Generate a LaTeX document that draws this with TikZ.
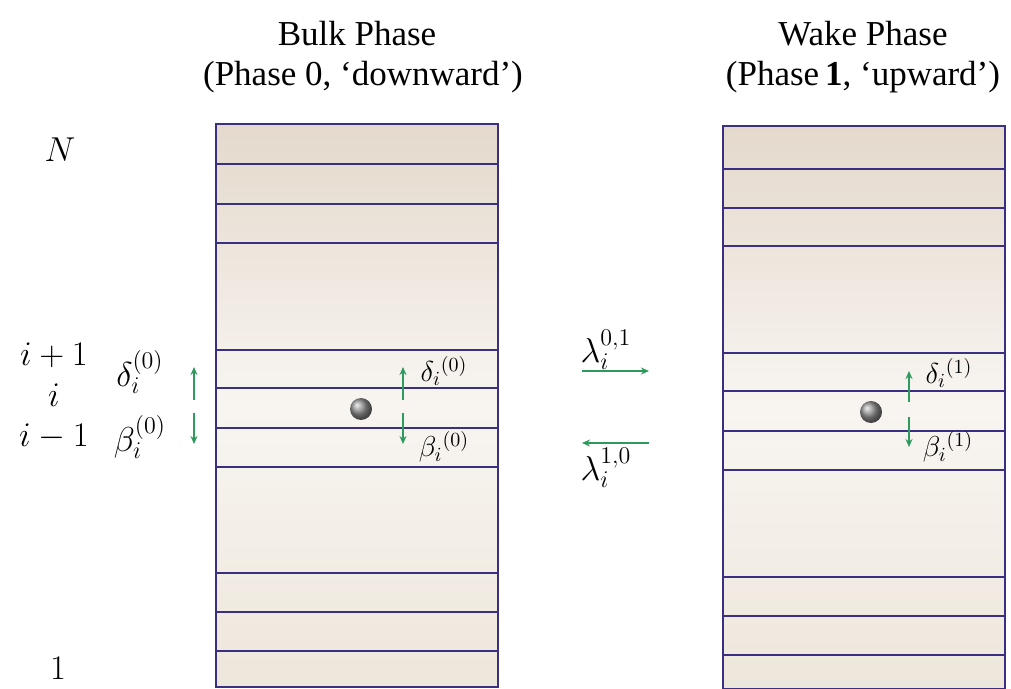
\documentclass[tikz,border=0pt]{standalone}
\usepackage{fontspec}
\setmainfont{Liberation Serif}
\usetikzlibrary{arrows.meta}
\definecolor{rowline}{HTML}{3A2F80}
\definecolor{arrowgreen}{HTML}{2F9A5E}
\definecolor{tantop}{HTML}{E4D9CC}
\definecolor{tanmid}{HTML}{F8F5F1}
\definecolor{tanbot}{HTML}{EDE6DB}
\begin{document}
\begin{tikzpicture}[x=0.5pt,y=-0.5pt,
  layerbox/.style={draw=rowline, line width=1pt, top color=tantop, bottom color=tanbot, middle color=tanmid},
  rowsep/.style={draw=rowline, line width=1pt},
  title/.style={font=\fontsize{17.5}{20}\selectfont, anchor=base, inner sep=0pt},
  levellabel/.style={font=\fontsize{18}{21}\selectfont, inner sep=0pt},
  ratelabel/.style={font=\fontsize{18.5}{21}\selectfont, inner sep=0pt},
  innerlabel/.style={font=\fontsize{14.5}{17}\selectfont, inner sep=0pt},
  lamlabel/.style={font=\fontsize{16.5}{19}\selectfont, inner sep=0pt},
  greenarrow/.style={draw=arrowgreen, line width=0.7pt, -{Stealth[length=4pt,width=3.5pt]}},
  ball/.style={circle, minimum size=11pt, inner sep=0pt, shading=ball, ball color=gray!85}]
\useasboundingbox (0,0) rectangle (1011,689);

% titles
\node[title] (t1a) at (357,46) {Bulk Phase};
\node[title] (t1b) at (363,86) {(Phase 0, ‘downward’)};
\node[title] (t2a) at (863,46) {Wake Phase};
\node[title] (t2b) at (863,86) {(Phase\,{\bfseries 1}, ‘upward’)};

% left box
\path[layerbox] (216,124) rectangle (498,687);
\foreach \yy in {164,204,243,350,388,428,467,573,612,651}
  \draw[rowsep] (216,\yy) -- (498,\yy);

% right box
\path[layerbox] (723,126) rectangle (1005,689);
\foreach \yy in {169,208,246,353,391,431,470,577,616,655}
  \draw[rowsep] (723,\yy) -- (1005,\yy);

% level labels
\node[levellabel] (lN) at (60,150) {$N$};
\node[levellabel] (lip) at (54,355) {$i+1$};
\node[levellabel] (li) at (54,395) {$i$};
\node[levellabel] (lim) at (54,437) {$i-1$};
\node[levellabel] (l1) at (58,668) {$1$};

% outer rate labels
\node[ratelabel] (dL) at (140,372) {$\delta_i^{(0)}$};
\node[ratelabel] (bL) at (140,437) {$\beta_i^{(0)}$};
\coordinate (dLs) at (194,400);
\coordinate (dLe) at (194,367);
\coordinate (bLs) at (194,413);
\coordinate (bLe) at (194,444);
\draw[greenarrow] (dLs) -- (dLe);
\draw[greenarrow] (bLs) -- (bLe);

% balls
\node[ball] (ballL) at (361,409) {};
\node[ball] (ballR) at (871,412) {};

% inner arrows left
\coordinate (dIs) at (403,400);
\coordinate (dIe) at (403,367);
\coordinate (bIs) at (403,413);
\coordinate (bIe) at (403,444);
\draw[greenarrow] (dIs) -- (dIe);
\draw[greenarrow] (bIs) -- (bIe);
\node[innerlabel] (dIl) at (444,371) {$\delta_i{}^{(0)}$};
\node[innerlabel] (bIl) at (444,447) {$\beta_i{}^{(0)}$};

% inner arrows right
\coordinate (dRs) at (909,402);
\coordinate (dRe) at (909,371);
\coordinate (bRs) at (909,417);
\coordinate (bRe) at (909,447);
\draw[greenarrow] (dRs) -- (dRe);
\draw[greenarrow] (bRs) -- (bRe);
\node[innerlabel] (dRl) at (949,373) {$\delta_i{}^{(1)}$};
\node[innerlabel] (bRl) at (948,447) {$\beta_i{}^{(1)}$};

% transition arrows
\coordinate (f1) at (582,371);
\coordinate (f2) at (649,371);
\coordinate (g1) at (649,443);
\coordinate (g2) at (582,443);
\draw[greenarrow] (f1) -- (f2);
\draw[greenarrow] (g1) -- (g2);
\node[lamlabel] (lam01) at (606,350) {$\lambda_i^{0,1}$};
\node[lamlabel] (lam10) at (606,468) {$\lambda_i^{1,0}$};
\end{tikzpicture}
\end{document}
